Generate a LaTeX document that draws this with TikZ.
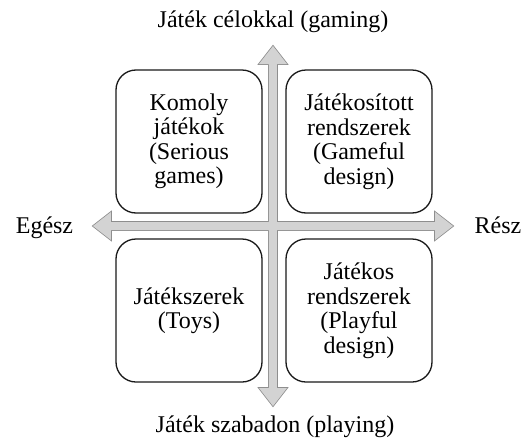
\documentclass[tikz,border=0pt]{standalone}
\usepackage{fontspec}
\setmainfont{Liberation Serif}
\usetikzlibrary{positioning}
\definecolor{axisfill}{HTML}{D3D3D3}
\definecolor{axisline}{HTML}{8E8E8E}
\tikzset{
    quad/.style={draw=black!90, line width=1.3pt, rounded corners=20pt, minimum width=146pt, minimum height=143pt, align=center, inner sep=0pt},
    axislabel/.style={anchor=base, inner sep=0pt}
}

\begin{document}
\begin{tikzpicture}[x=1pt, y=1pt, font=\fontsize{24}{24.5}\selectfont]
    \useasboundingbox (-273,-214) rectangle (252,226);
    % the two axes, outline first and then the fill on top
    \foreach \ang in {0,90} {
        \draw[axisline, line width=1.6pt, line join=miter, rotate=\ang] (-180,0) -- (-162,14) -- (-162,4) -- (162,4) -- (162,14) -- (180,0) -- (162,-14) -- (162,-4) -- (-162,-4) -- (-162,-14) -- cycle;
    }
    \foreach \ang in {0,90} {
        \fill[axisfill, rotate=\ang] (-180,0) -- (-162,14) -- (-162,4) -- (162,4) -- (162,14) -- (180,0) -- (162,-14) -- (162,-4) -- (-162,-4) -- (-162,-14) -- cycle;
    }
    \node[quad] (serious) at (-84,84.5) {Komoly\\játékok\\(Serious\\games)};
    \node[quad] (gameful) at (86,84.5) {Játékosított\\rendszerek\\(Gameful\\design)};
    \node[quad] (toys) at (-84,-84.5) {Játékszerek\\(Toys)};
    \node[quad] (playful) at (86,-84.5) {Játékos\\rendszerek\\(Playful\\design)};
    \node[axislabel] (gaming) at (0,199) {Játék célokkal (gaming)};
    \node[axislabel] (playing) at (2,-206) {Játék szabadon (playing)};
    \node[axislabel] (whole) at (-228.5,-7) {Egész};
    \node[axislabel] (part) at (225,-7) {Rész};
\end{tikzpicture}
\end{document}
